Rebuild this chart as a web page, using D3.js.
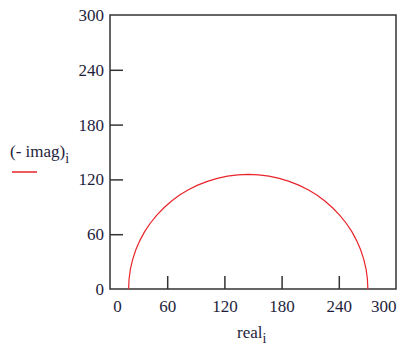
<!DOCTYPE html>
<meta charset="utf-8">

<style>
  body { margin: 0; background: #fff; }
  svg text { font-family: "Liberation Serif", "DejaVu Serif", serif !important; fill: #1e1e3c; }
</style>

<svg class="chart"></svg>

<script src="https://d3js.org/d3.v7.min.js"></script>
<script>

  var width  = 402;
  var height = 347;

  // values
  var real = [270.5, 270.0, 268.6, 266.2, 262.9, 258.7, 253.7, 247.8, 241.1, 233.7,
              225.7, 217.0, 207.8, 198.0, 187.9, 177.5, 166.8, 155.9, 145.0,
              134.1, 123.2, 112.5, 102.1, 92.0, 82.2, 73.0, 64.3, 56.3, 48.9,
              42.2, 36.3, 31.3, 27.1, 23.8, 21.4, 20.0, 19.5];
  var negImag = [0, 10.9, 21.8, 32.5, 42.9, 53.0, 62.8, 72.0, 80.7, 88.7,
                 96.1, 102.8, 108.7, 113.7, 117.9, 121.2, 123.6, 125.0, 125.5,
                 125.0, 123.6, 121.2, 117.9, 113.7, 108.7, 102.8, 96.1, 88.7, 80.7,
                 72.0, 62.8, 53.0, 42.9, 32.5, 21.8, 10.9, 0];
  var xTicks = [0, 60, 120, 180, 240, 300];
  var yTicks = [0, 60, 120, 180, 240, 300];

  var margin = { top: 15, right: 6, bottom: 58, left: 110 };
  var plotW = width - margin.left - margin.right;
  var plotH = height - margin.top - margin.bottom;

  var chart = d3.select(".chart")
      .attr("width", width)
      .attr("height", height);

  var x = d3.scaleLinear().domain([0, 300]).range([0, plotW]);
  var y = d3.scaleLinear().domain([0, 300]).range([plotH, 0]);

  var g = chart.append("g")
      .attr("transform", "translate(" + margin.left + "," + margin.top + ")");

  // frame
  g.append("rect")
      .attr("width", plotW)
      .attr("height", plotH)
      .attr("fill", "none")
      .attr("stroke", "#333")
      .attr("stroke-width", 1.5);

  var xAxis = g.append("g")
      .attr("transform", "translate(0," + plotH + ")")
      .call(d3.axisBottom(x).tickValues(xTicks).tickSizeInner(-13).tickSizeOuter(0).tickPadding(11));
  var yAxis = g.append("g")
      .call(d3.axisLeft(y).tickValues(yTicks).tickSizeInner(-13).tickSizeOuter(0).tickPadding(6));

  [xAxis, yAxis].forEach(function(a) {
    a.attr("font-family", null);
    a.select(".domain").remove();
    a.selectAll("line").attr("stroke", "#333").attr("stroke-width", 1.5);
    a.selectAll("text")
        .style("font-size", "17px")
        .attr("fill", "#1e1e3c");
  });
  xAxis.selectAll("line").filter(function(d) { return d === 0 || d === 300; }).remove();
  yAxis.selectAll("line").filter(function(d) { return d === 0 || d === 300; }).remove();

  // end labels sit inside the frame like the original
  xAxis.selectAll("text").filter(function(d) { return d === 0; }).attr("x", 7);
  xAxis.selectAll("text").filter(function(d) { return d === 300; })
      .attr("text-anchor", "end").attr("x", 0);

  var line = d3.line()
      .x(function(d, i) { return x(real[i]); })
      .y(function(d, i) { return y(negImag[i]); });

  g.append("path")
      .datum(real)
      .attr("d", line)
      .attr("fill", "none")
      .attr("stroke", "#e8242a")
      .attr("stroke-width", 1.2);

  // y label + legend swatch
  var yl = chart.append("text")
      .attr("x", 10)
      .attr("y", 157)
      .style("font-size", "17px");
  yl.append("tspan").text("(- imag)");
  yl.append("tspan").attr("dy", 6).style("font-size", "14px").text("i");

  chart.append("line")
      .attr("x1", 12).attr("x2", 37)
      .attr("y1", 172).attr("y2", 172)
      .attr("stroke", "#e8242a")
      .attr("stroke-width", 1.5);

  // x label
  var xl = chart.append("text")
      .attr("x", 237)
      .attr("y", 338)
      .style("font-size", "17px");
  xl.append("tspan").text("real");
  xl.append("tspan").attr("dy", 5).style("font-size", "14px").text("i");

</script>
